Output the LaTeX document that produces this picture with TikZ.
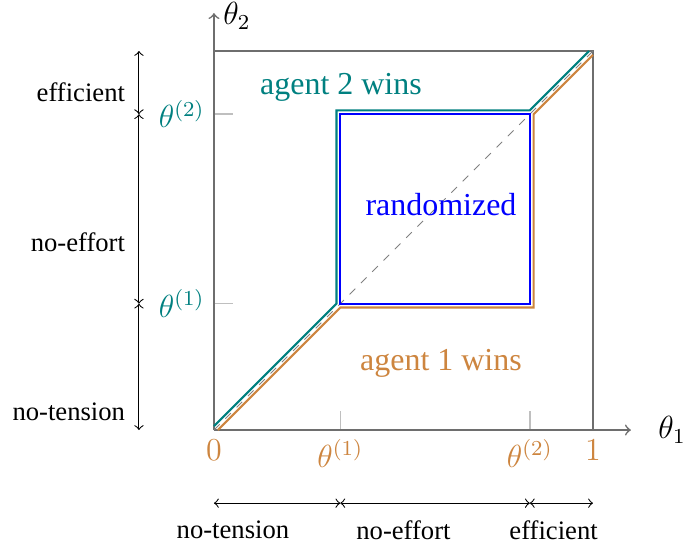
\documentclass[tikz,border=0pt]{standalone}
\usepackage{fontspec}
\setmainfont{Liberation Serif}
\definecolor{agtwo}{RGB}{0,128,128}
\definecolor{agone}{RGB}{205,133,63}
\definecolor{axisgray}{RGB}{110,110,110}
\begin{document}
\begin{tikzpicture}[x=5cm,y=5cm,font=\fontsize{12}{14}\selectfont,
  axisline/.style={draw=axisgray,line width=0.6pt},
  tickline/.style={draw=black!25,line width=0.6pt},
  regline/.style={line width=0.8pt},
  spanline/.style={<->,line width=0.4pt},
  spanlbl/.style={font=\fontsize{10}{12}\selectfont}]
\useasboundingbox (-0.5646,-0.3113) rectangle (1.2454,1.1346);
% axes
\coordinate (O) at (0,0);
\coordinate (X) at (1.1,0);
\coordinate (Y) at (0,1.1);
\coordinate (TR) at (1,1);
\coordinate (X1) at (1,0);
\coordinate (Y1) at (0,1);
\coordinate (xa) at (0.3333,0);
\coordinate (xb) at (0.8333,0);
\coordinate (xat) at (0.3333,0.05);
\coordinate (xbt) at (0.8333,0.05);
\coordinate (ya) at (0,0.3333);
\coordinate (yb) at (0,0.8333);
\coordinate (yat) at (0.05,0.3333);
\coordinate (ybt) at (0.05,0.8333);
\draw[tickline] (xa) -- (xat);
\draw[tickline] (xb) -- (xbt);
\draw[tickline] (ya) -- (yat);
\draw[tickline] (yb) -- (ybt);
\draw[axisline,->] (O) -- (X);
\draw[axisline,->] (O) -- (Y);
\draw[axisline] (Y1) -- (TR) -- (X1);
\node[right=0.24cm] (lx) at (X) {$\theta_1$};
\node[right,yshift=-1pt] (ly) at (Y) {$\theta_2$};
% tick labels
\node[below,text=agone] (l0) at (O) {$0$};
\node[below,text=agone] (l1) at (xa) {$\theta^{(1)}$};
\node[below,text=agone] (l2) at (xb) {$\theta^{(2)}$};
\node[below,text=agone] (l3) at (X1) {$1$};
\node[left,text=agtwo] (m1) at (ya) {$\theta^{(1)}$};
\node[left,text=agtwo] (m2) at (yb) {$\theta^{(2)}$};
% diagonal
\draw[dashed,black!50,line width=0.3pt] (O) -- (TR);
% regions
\draw[agtwo,regline] (0,0.01) -- (0.3233,0.3333) -- (0.3233,0.8433) -- (0.8333,0.8433) -- (0.99,1);
\draw[agone,regline] (0.01,0) -- (0.3333,0.3233) -- (0.8433,0.3233) -- (0.8433,0.8333) -- (1,0.99);
\draw[blue,regline] (0.3333,0.3333) rectangle (0.8333,0.8333);
\node[text=agtwo] (t2) at (0.335,0.905) {agent 2 wins};
\node[text=blue] (tr) at (0.599,0.596) {randomized};
\node[text=agone] (t1) at (0.599,0.177) {agent 1 wins};
% left spans
\coordinate (v0) at (-0.198,0);
\coordinate (v1) at (-0.198,0.3333);
\coordinate (v2) at (-0.198,0.8333);
\coordinate (v3) at (-0.198,1);
\draw[spanline] (v0) -- (v1);
\draw[spanline] (v1) -- (v2);
\draw[spanline] (v2) -- (v3);
\node[spanlbl,anchor=east] (e1) at (-0.21,0.892) {efficient};
\node[spanlbl,anchor=east] (e2) at (-0.21,0.496) {no-effort};
\node[spanlbl,anchor=east] (e3) at (-0.21,0.0475) {no-tension};
% bottom spans
\coordinate (h0) at (0,-0.193);
\coordinate (h1) at (0.3333,-0.193);
\coordinate (h2) at (0.8333,-0.193);
\coordinate (h3) at (1,-0.193);
\draw[spanline] (h0) -- (h1);
\draw[spanline] (h1) -- (h2);
\draw[spanline] (h2) -- (h3);
\node[spanlbl] (f1) at (0.05,-0.264) {no-tension};
\node[spanlbl] (f2) at (0.5,-0.264) {no-effort};
\node[spanlbl] (f3) at (0.896,-0.264) {efficient};
\end{tikzpicture}
\end{document}
